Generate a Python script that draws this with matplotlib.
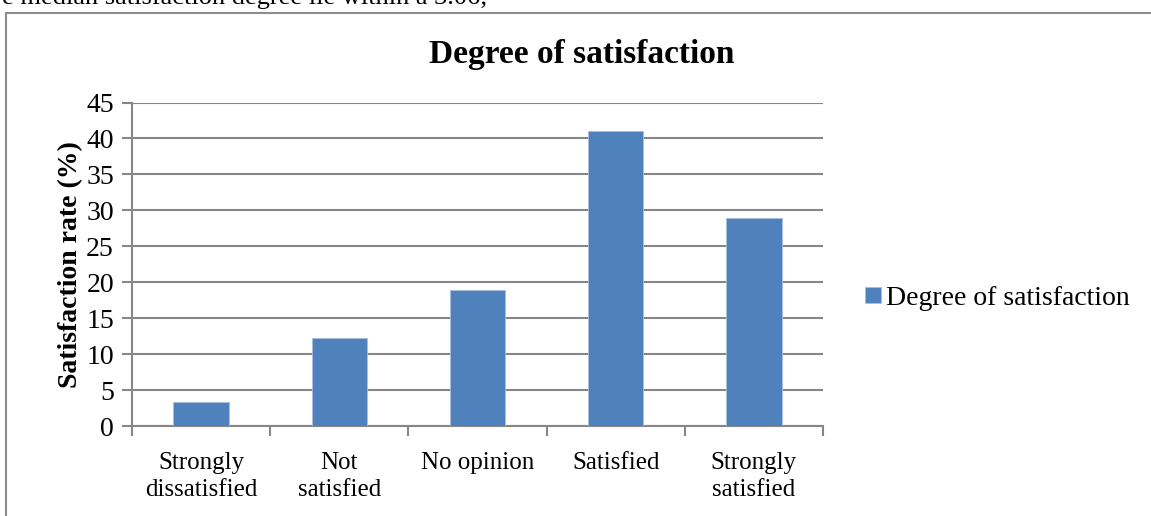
import matplotlib
matplotlib.use("Agg")
import matplotlib.pyplot as plt
from matplotlib.patches import Rectangle

categories = ["Strongly\ndissatisfied", "Not\nsatisfied", "No opinion", "Satisfied", "Strongly\nsatisfied"]
rates = [3.3, 12.2, 18.9, 41.0, 29.0]
series_name = "Degree of satisfaction"
title = "Degree of satisfaction"
y_label = "Satisfaction rate (%)"
y_ticks = [0, 5, 10, 15, 20, 25, 30, 35, 40, 45]

BAR = "#4f81bd"
GRID = "#868686"

plt.rcParams["font.family"] = ["Liberation Serif", "DejaVu Serif"]

fig = plt.figure(figsize=(11.51, 5.16), dpi=100)
W, H = 1151, 516

# clipped line of document text above the chart
fig.text(2 / W, 1 - 4 / H, "e median satisfaction degree lie within a 3.06;",
         fontsize=19, va="baseline", ha="left", color="black")

# chart border
fig.patches.append(Rectangle((5.5 / W, -0.1), 1.2, 1 - 12.5 / H + 0.1,
                             transform=fig.transFigure, fill=False,
                             edgecolor="#8c8c8c", linewidth=1.5))

ax = fig.add_axes([132 / W, 1 - 426 / H, (823 - 132) / W, (426 - 102.5) / H])
x = range(len(categories))
ax.bar(x, rates, width=0.4, color=BAR, edgecolor="#a9bfdd", linewidth=0.6,
       label=series_name, zorder=3)
ax.set_xlim(-0.5, len(categories) - 0.5)
ax.set_ylim(0, 45)
ax.set_yticks(y_ticks)
ax.set_yticklabels([str(t) for t in y_ticks], fontsize=20)
ax.set_xticks(list(x))
ax.set_xticklabels(categories, fontsize=18, linespacing=1.3)
ax.set_xticks([i - 0.5 for i in range(len(categories) + 1)], minor=True)
ax.tick_params(axis="x", which="major", length=0, pad=19)
ax.tick_params(axis="x", which="minor", length=7, width=1.5, color=GRID)
ax.tick_params(axis="y", length=7, width=1.5, color=GRID, pad=6)
ax.grid(axis="y", color=GRID, linewidth=1.5, zorder=0)
for side in ["top", "right"]:
    ax.spines[side].set_visible(False)
for side in ["left", "bottom"]:
    ax.spines[side].set_color(GRID)
    ax.spines[side].set_linewidth(1.5)
ax.set_ylabel(y_label, fontsize=20, fontweight="bold", labelpad=2)

fig.text(582 / W, 1 - 54 / H, title, fontsize=24, fontweight="bold",
         ha="center", va="center")

leg = ax.legend(loc="center left", bbox_to_anchor=(1.025, 0.395), frameon=False,
                fontsize=20, handlelength=0.55, handleheight=0.55, handletextpad=0.2)

fig.savefig("out.png", dpi=100)
